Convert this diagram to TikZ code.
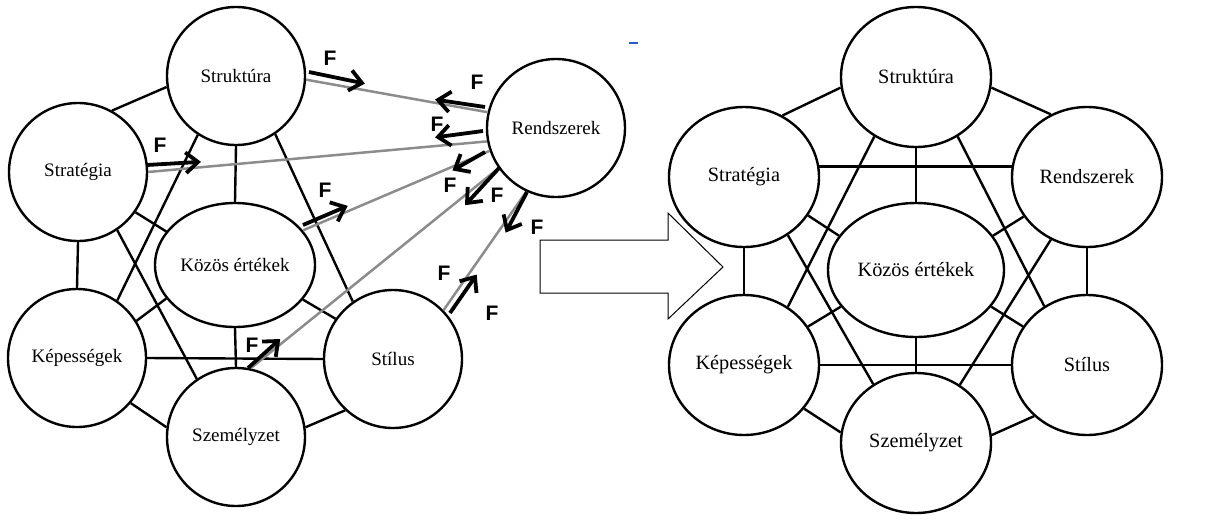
\documentclass[tikz,border=0pt]{standalone}
\usepackage{fontspec}
\setmainfont{Liberation Serif}
\newfontfamily\fsans{Liberation Sans}
\usetikzlibrary{shapes.geometric,arrows.meta,calc}
\definecolor{grayln}{RGB}{140,140,140}
\definecolor{bluemark}{RGB}{40,90,210}
\begin{document}
\begin{tikzpicture}[x=1pt,y=-1pt,
  cL/.style={draw,ellipse,line width=2.4pt,inner sep=0pt,minimum width=138pt,minimum height=138pt,font=\fontsize{19}{22}\selectfont},
  eL/.style={draw,ellipse,line width=2.4pt,inner sep=0pt,minimum width=160pt,minimum height=124pt,font=\fontsize{19}{22}\selectfont},
  cR/.style={draw,ellipse,line width=2.4pt,inner sep=0pt,minimum width=150pt,minimum height=140pt,font=\fontsize{20.3}{23}\selectfont},
  eR/.style={draw,ellipse,line width=2.4pt,inner sep=0pt,minimum width=176pt,minimum height=134pt,font=\fontsize{20.3}{23}\selectfont},
  ln/.style={line width=2.4pt},
  gl/.style={line width=2.5pt,color=grayln},
  fshaft/.style={line width=3.8pt},
  fhead/.style={line width=3.8pt,line join=miter,miter limit=10},
  fl/.style={font=\fsans\bfseries\fontsize{21}{21}\selectfont,inner sep=0pt},
  bigarrow/.style={line width=1pt}]
\useasboundingbox (0,0) rectangle (1205,520);

% ---------- left diagram ----------
\node[cL] (St) at (236,76) {Struktúra};
\node[cL] (Sg) at (78,172) {Stratégia};
\node[cL] (R) at (556,128) {Rendszerek};
\node[eL] (K) at (235,265) {Közös értékek};
\node[cL] (Kp) at (77,358) {Képességek};
\node[cL] (Sz) at (236,437) {Személyzet};
\node[cL] (Sti) at (393,359) {Stílus};

\draw[ln] (Sg.61) -- (St.189);
\draw[ln] (St.south) -- (K.north);
\draw[ln] (St.-123) -- (Kp.55);
\draw[ln] (St.-56) -- (Sti.125);
\draw[ln] (Sg.-35) -- (K.154);
\draw[ln] (Sg.-56) -- (Sz.124);
\draw[ln] (Sg.south) -- (Kp.north);
\draw[ln] (Kp.32) -- (K.206);
\draw[ln] (Kp.east) -- (Sti.west);
\draw[ln] (K.south) -- (Sz.north);
\draw[ln] (Kp.-40) -- (Sz.172);
\draw[ln] (Sz.8) -- (Sti.-133);
\draw[ln] (K.-27) -- (Sti.145);

\draw[gl] (St.-3) -- (R.167);
\draw[gl] (Sg.0) -- (R.191);
\draw[gl] (K.27) -- (R.199);
\draw[gl] (Sz.78) -- (R.215);
\draw[gl] (Sti.44) -- (R.245);

\coordinate (a1s) at (309,72);  \coordinate (a1e) at (362,83);
\coordinate (a2s) at (485,107); \coordinate (a2e) at (438,100);
\coordinate (a3s) at (147,165); \coordinate (a3e) at (198,162);
\coordinate (a4s) at (483,131); \coordinate (a4e) at (438,137);
\coordinate (a5s) at (303,225); \coordinate (a5e) at (345,207);
\coordinate (a6s) at (485,152); \coordinate (a6e) at (455,169);
\coordinate (a7s) at (248,368); \coordinate (a7e) at (278,341);
\coordinate (a8s) at (500,167); \coordinate (a8e) at (467,203);
\coordinate (a9s) at (450,313); \coordinate (a9e) at (475,277);
\coordinate (a10s) at (527,192); \coordinate (a10e) at (507,230);
\foreach \i in {1,...,10} {
  \draw[fshaft] (a\i s) -- ($(a\i e)!2pt!(a\i s)$);
  \draw[fhead] ($(a\i e)!16pt!40:(a\i s)$) -- (a\i e) -- ($(a\i e)!16pt!-40:(a\i s)$);
}

\node[fl] (f1) at (330,58) {F};
\node[fl] (f2) at (477,82) {F};
\node[fl] (f3) at (160,145) {F};
\node[fl] (f4) at (437,124) {F};
\node[fl] (f5) at (325,190) {F};
\node[fl] (f6) at (450,185) {F};
\node[fl] (f7) at (497,195) {F};
\node[fl] (f8) at (537,227) {F};
\node[fl] (f9) at (444,273) {F};
\node[fl] (f10) at (492,313) {F};
\node[fl] (f11) at (252,345) {F};

\draw[bluemark,line width=1.2pt] (629,43) -- (638,43);

% ---------- big arrow ----------
\draw[bigarrow] (540,240) -- (668,240) -- (668,213) -- (723,267) -- (668,319) -- (668,293) -- (540,293) -- cycle;

% ---------- right diagram ----------
\node[cR] (St2) at (916,77) {Struktúra};
\node[cR] (Sg2) at (744,177) {Stratégia};
\node[cR] (R2) at (1087,177) {Rendszerek};
\node[eR] (K2) at (916,270) {Közös értékek};
\node[cR] (Kp2) at (744,365) {Képességek};
\node[cR] (Sti2) at (1087,365) {Stílus};
\node[cR] (Sz2) at (916,443) {Személyzet};

\draw[ln] (St2.188) -- (Sg2.58);
\draw[ln] (St2.-8) -- (R2.120);
\draw[ln] (St2.south) -- (K2.north);
\draw[ln] (Sg2.8) -- (R2.172);
\draw[ln] (St2.-125) -- (Kp2.53);
\draw[ln] (St2.-55) -- (Sti2.126);
\draw[ln] (Sg2.-31) -- (K2.156);
\draw[ln] (R2.-148) -- (K2.24);
\draw[ln] (Sg2.south) -- (Kp2.north);
\draw[ln] (R2.south) -- (Sti2.north);
\draw[ln] (Sg2.-53) -- (Sz2.126);
\draw[ln] (R2.-120) -- (Sz2.53);
\draw[ln] (Kp2.31) -- (K2.-154);
\draw[ln] (Sti2.149) -- (K2.-26);
\draw[ln] (K2.south) -- (Sz2.north);
\draw[ln] (Kp2.east) -- (Sti2.west);
\draw[ln] (Kp2.-36) -- (Sz2.172);
\draw[ln] (Sti2.-136) -- (Sz2.6);
\end{tikzpicture}
\end{document}
